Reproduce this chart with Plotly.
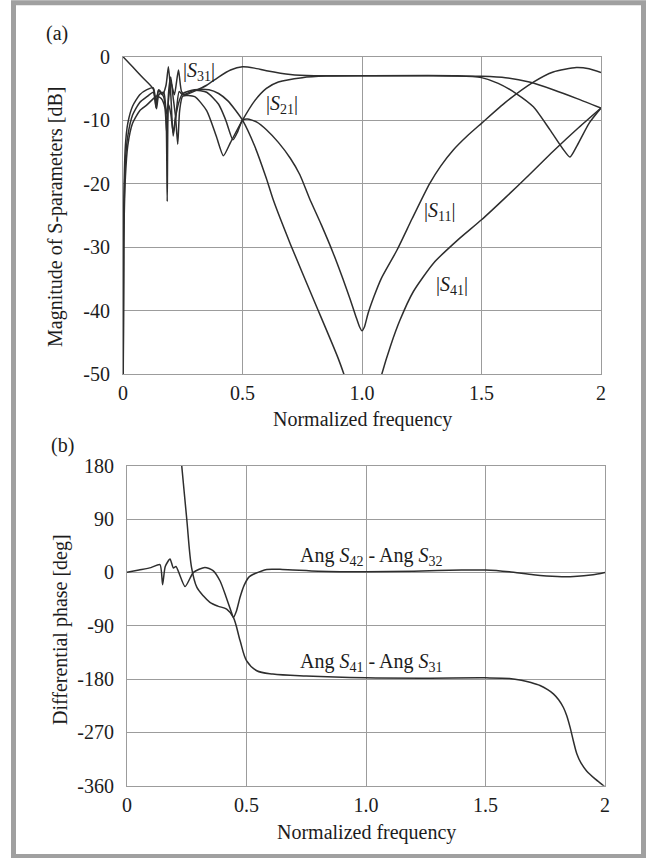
import plotly.graph_objects as go

W, H = 646, 858

# ---------------- Panel (a): |S| in dB ----------------
freq_ticks = [0, 0.5, 1.0, 1.5, 2.0]
freq_ticktext = ["0", "0.5", "1.0", "1.5", "2"]
db_ticks = [0, -10, -20, -30, -40, -50]
db_ticktext = ["0", "-10", "-20", "-30", "-40", "-50"]

s11_f = [0, 0.04, 0.08, 0.127, 0.138, 0.148, 0.165, 0.18, 0.19, 0.2, 0.21, 0.222, 0.235, 0.25,
         0.3, 0.35, 0.4, 0.43, 0.46, 0.48, 0.5, 0.52, 0.56, 0.6, 0.65, 0.7, 0.74, 0.78, 0.83,
         0.88, 0.92, 0.95, 0.975, 0.99, 1.0, 1.01, 1.025, 1.05, 1.08, 1.146, 1.21, 1.283, 1.33,
         1.382, 1.44, 1.5, 1.6, 1.717, 1.8, 1.897, 1.95, 2.0]
s11_db = [0, -1.6, -3.2, -5.1, -8, -5.3, -6, -4.5, -1.6, -6, -12.5, -9, -5.5, -6,
          -5.3, -5.6, -7.5, -10, -13.1, -11.8, -10, -9.8, -10.3, -11.5, -13.5, -16, -18.6, -22.3, -26.5,
          -31, -35, -38.2, -41, -42.6, -43.2, -42.6, -40.5, -37.8, -35, -30.5, -25.5, -20, -17.2,
          -14.7, -12.5, -10.5, -7.2, -4.0, -2.4, -1.7, -1.9, -2.5]

s21_f = [0, 0.003, 0.01, 0.02, 0.04, 0.07, 0.1, 0.127, 0.14, 0.15, 0.17, 0.18, 0.185, 0.19, 0.2,
         0.21, 0.22, 0.229, 0.237, 0.25, 0.3, 0.35, 0.39, 0.42, 0.45, 0.5, 0.55, 0.6, 0.65, 0.75,
         0.85, 1.0, 1.4, 1.5, 1.57, 1.645, 1.717, 1.786, 1.84, 1.87, 1.9, 1.95, 2.0]
s21_db = [-60, -28, -16.5, -12.5, -9.2, -7.2, -6.3, -5.6, -8.2, -6, -5.6, -9, -22.8, -6, -3.2,
          -6.5, -9.5, -13.8, -8.5, -6.2, -6.3, -8.5, -12.5, -15.6, -13.5, -10, -7, -5, -4, -3.3,
          -3.05, -3.0, -3.0, -3.3, -4.2, -5.8, -7.9, -11.5, -14.5, -15.8, -14, -10.5, -8.1]

s31_f = [0, 0.003, 0.01, 0.02, 0.04, 0.07, 0.1, 0.127, 0.138, 0.15, 0.17, 0.183, 0.2, 0.215,
         0.232, 0.245, 0.26, 0.3, 0.35, 0.4, 0.45, 0.5, 0.55, 0.6, 0.7, 0.8, 1.0, 1.3, 1.5,
         1.6, 1.7, 1.8, 1.9, 2.0]
s31_db = [-60, -24, -14, -10.5, -7.8, -6, -5.2, -4.9, -7.2, -5.2, -6.3, -9, -4, -6,
          -2.1, -5.5, -6, -5.4, -4.5, -3.2, -2.1, -1.6, -1.8, -2.2, -2.8, -3.0, -3.0, -3.0, -3.1,
          -3.3, -4.0, -5.2, -6.6, -8.1]

s41_f = [0, 0.003, 0.01, 0.02, 0.04, 0.07, 0.1, 0.127, 0.14, 0.16, 0.175, 0.183, 0.19, 0.2,
         0.21, 0.22, 0.235, 0.25, 0.3, 0.36, 0.4, 0.44, 0.47, 0.5, 0.55, 0.6, 0.629, 0.7, 0.8,
         0.9, 0.95, 1.0, 1.04, 1.083, 1.12, 1.159, 1.215, 1.3, 1.4, 1.5, 1.6, 1.7, 1.8, 1.9, 2.0]
s41_db = [-60, -30, -19, -14, -10.5, -8.5, -7.6, -6.6, -6.2, -6.6, -8, -12, -7.5, -9,
          -12, -9.5, -7, -5.8, -5.2, -5.2, -5.8, -7, -8.4, -10, -14, -19.2, -22.6, -29.5, -38.5,
          -47.5, -53, -60, -56.5, -50, -45.5, -41.5, -37, -32.5, -28.9, -25.7, -22.2, -18.6, -14.9, -11.4, -8.1]

# ---------------- Panel (b): differential phase ----------------
deg_ticks = [180, 90, 0, -90, -180, -270, -360]
deg_ticktext = ["180", "90", "0", "-90", "-180", "-270", "-360"]

p42_f = [0, 0.05, 0.1, 0.138, 0.149, 0.16, 0.18, 0.194, 0.205, 0.243, 0.278, 0.326, 0.36, 0.39,
         0.415, 0.435, 0.445, 0.458, 0.473, 0.49, 0.51, 0.536, 0.585, 0.65, 0.8, 1.0, 1.2, 1.4,
         1.5, 1.6, 1.7, 1.8, 1.87, 1.95, 2.0]
p42_deg = [0, 4, 8, 13, -20.8, 10, 22.5, 7.4, 10, -24, 0, 8.4, 3, -15,
           -42, -65, -76, -65, -42, -22, -8, -2, 5, 5, 2, 1, 2, 4,
           4, 1, -4, -7, -7, -4, 0]

p41_f = [0.215, 0.229, 0.25, 0.27, 0.292, 0.32, 0.347, 0.38, 0.417, 0.445, 0.473, 0.5, 0.543,
         0.61, 0.75, 1.0, 1.25, 1.5, 1.6, 1.65, 1.69, 1.728, 1.76, 1.784, 1.806, 1.826, 1.84,
         1.854, 1.868, 1.882, 1.9, 1.923, 1.96, 2.0]
p41_deg = [240, 180, 90, 8.4, -25, -40, -50.6, -57, -62, -76, -115, -149, -166,
           -171.6, -175, -178, -178.5, -178, -179, -182, -186, -191, -198, -205, -215, -228, -242,
           -261.6, -285, -306, -322, -335, -349, -362]

# ---------------- figure ----------------
def px_x(p):
    return p / W

def px_y(p):
    return 1 - p / H

LINE = "#2e2e2e"
GRID = "#9c9c9c"
FONT = "Liberation Serif, 'Times New Roman', 'DejaVu Serif', serif"
TXT = "#1c1c1c"

fig = go.Figure()
for fx, fy in [(s11_f, s11_db), (s21_f, s21_db), (s31_f, s31_db), (s41_f, s41_db)]:
    fig.add_trace(go.Scatter(x=fx, y=fy, mode="lines", xaxis="x", yaxis="y",
                             line=dict(color=LINE, width=1.5, shape="spline", smoothing=0.6),
                             showlegend=False, hoverinfo="skip"))
for fx, fy, sm in [(p42_f, p42_deg, 0.6), (p41_f, p41_deg, 0.9)]:
    fig.add_trace(go.Scatter(x=fx, y=fy, mode="lines", xaxis="x2", yaxis="y2",
                             line=dict(color=LINE, width=1.5, shape="spline", smoothing=sm),
                             showlegend=False, hoverinfo="skip"))

axis_common = dict(showgrid=True, gridcolor=GRID, gridwidth=1, showline=True, mirror=True,
                   linecolor=GRID, linewidth=1, zeroline=False, ticks="",
                   tickfont=dict(family=FONT, size=20, color=TXT))

fig.update_layout(
    width=W, height=H, margin=dict(l=0, r=0, t=0, b=0, autoexpand=False),
    paper_bgcolor="white", plot_bgcolor="white",
    font=dict(family=FONT, size=20, color=TXT),
    xaxis=dict(domain=[px_x(123), px_x(601)], range=[0, 2], tickvals=freq_ticks,
               ticktext=freq_ticktext, anchor="y", ticklabelstandoff=1, **axis_common),
    yaxis=dict(domain=[px_y(374), px_y(56.7)], range=[-50, 0], tickvals=db_ticks,
               ticktext=db_ticktext, anchor="x", ticklabelstandoff=8, **axis_common),
    xaxis2=dict(domain=[px_x(127), px_x(605)], range=[0, 2], tickvals=freq_ticks,
                ticktext=freq_ticktext, anchor="y2", ticklabelstandoff=1, **axis_common),
    yaxis2=dict(domain=[px_y(785.7), px_y(465.7)], range=[-360, 180], tickvals=deg_ticks,
                ticktext=deg_ticktext, anchor="x2", ticklabelstandoff=8, **axis_common),
)

def ann_paper(text, x, y, angle=0):
    fig.add_annotation(text=text, x=px_x(x), y=px_y(y), xref="paper", yref="paper",
                       showarrow=False, textangle=angle, xanchor="center", yanchor="middle",
                       font=dict(family=FONT, size=20, color=TXT))

def ann_data(text, x, y, xr, yr):
    fig.add_annotation(text=text, x=x, y=y, xref=xr, yref=yr, showarrow=False,
                       xanchor="center", yanchor="middle",
                       font=dict(family=FONT, size=20, color=TXT))

ann_paper("(a)", 57, 34)
ann_paper("(b)", 62, 445)
ann_paper("Normalized frequency", 362, 419)
ann_paper("Normalized frequency", 366, 832)
ann_paper("Magnitude of S-parameters [dB]", 56, 217, -90)
ann_paper("Differential phase [deg]", 60, 630, -90)

ann_data("|<i>S</i><sub>31</sub>|", 0.317, -2.3, "x", "y")
ann_data("|<i>S</i><sub>21</sub>|", 0.667, -7.5, "x", "y")
ann_data("|<i>S</i><sub>11</sub>|", 1.326, -24.4, "x", "y")
ann_data("|<i>S</i><sub>41</sub>|", 1.376, -36.1, "x", "y")
ann_data("Ang <i>S</i><sub>42</sub> - Ang <i>S</i><sub>32</sub>", 1.02, 27, "x2", "y2")
ann_data("Ang <i>S</i><sub>41</sub> - Ang <i>S</i><sub>31</sub>", 1.02, -152, "x2", "y2")

# outer gray frame
fig.add_shape(type="rect", xref="paper", yref="paper",
              x0=px_x(13.5), x1=px_x(643.5), y0=px_y(856.5), y1=px_y(2.75),
              line=dict(color="#a0a0a0", width=5), fillcolor="rgba(0,0,0,0)", layer="above")

fig.write_html("out.html", config={"displayModeBar": False, "staticPlot": True},
               post_script="document.body.style.margin='0';document.body.style.overflow='hidden';")
